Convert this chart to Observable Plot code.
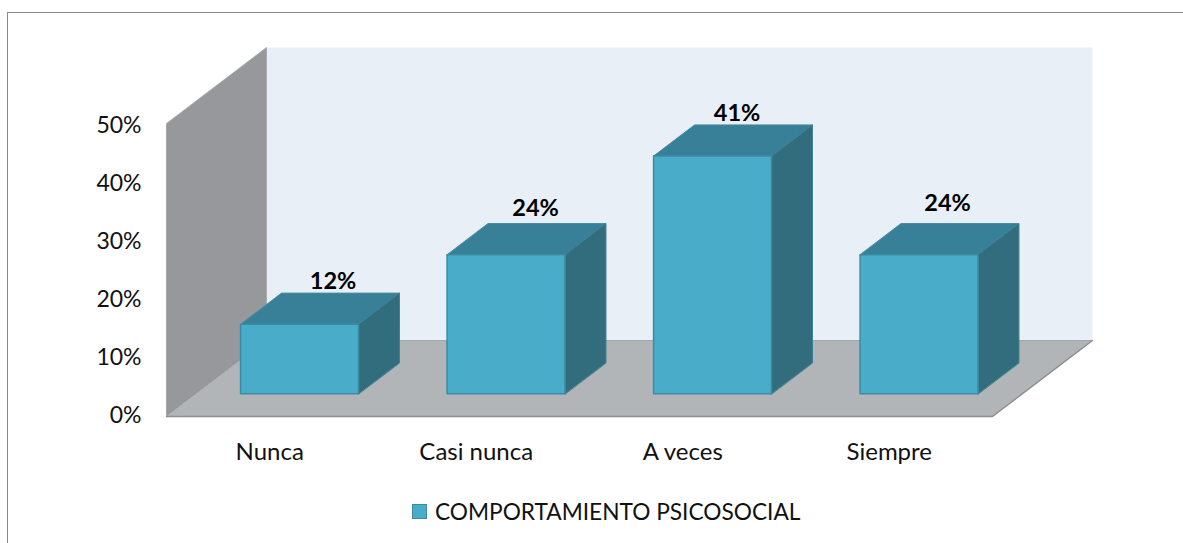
<!DOCTYPE html>
<html>
<head>
<meta charset="utf-8">
<script src="https://cdn.jsdelivr.net/npm/d3@7"></script>
<script src="https://cdn.jsdelivr.net/npm/@observablehq/plot@0.6"></script>
<style>
  html, body { margin: 0; padding: 0; background: #fff; width: 1183px; height: 543px; overflow: hidden; }
  body { position: relative; font-family: Lato, "Open Sans", sans-serif; color: #111; }
  #frame { position: absolute; left: 7px; top: 12px; right: -4px; bottom: -4px; border-left: 1.5px solid #888; border-top: 1.5px solid #888; }
  #chart { position: absolute; left: 0; top: 0; }
  #legend { position: absolute; left: 0; top: 495px; width: 1183px; height: 48px; }
  #legend .swatch { position: absolute; left: 412px; top: 9px; width: 13px; height: 13px; background: #49acc8; border: 1.5px solid #3a8ba3; }
  #legend .label { position: absolute; left: 435px; top: 1px; font-size: 22.7px; line-height: 32px; white-space: nowrap; }
</style>
</head>
<body>
<div id="frame"></div>
<div id="chart"></div>
<div id="legend"><span class="swatch"></span><span class="label" id="legendLabel"></span></div>
<script>
// Data
const categories = ["Nunca", "Casi nunca", "A veces", "Siempre"];
const values = [12, 24, 41, 24];
const seriesName = "COMPORTAMIENTO PSICOSOCIAL";
const yTicks = [0, 10, 20, 30, 40, 50];
const labelNudges = [[33, -14], [29, -17], [24, -14], [28, -22]];

// Oblique view of the 3D chart: depth d (0..1) shifts a point right and up.
const depthX = 0.484, depthY = 13.1;
const barWidth = 0.571, barFront = 0.298, barBack = 0.708;
const P = (u, v, d) => ({x: u + d * depthX, y: v + d * depthY});
const poly = (...pts) => pts.map(p => P(...p));
const yMax = yTicks[yTicks.length - 1], n = categories.length;
const wallTop = yMax + 0.5;

const face = (pts, fill, stroke, strokeWidth = 1) =>
  Plot.line(pts, {x: "x", y: "y", fill, stroke, strokeWidth, curve: "linear-closed"});

const boxes = categories.map((c, i) => ({
  c, v: values[i],
  u1: i + 0.5 - barWidth / 2,
  u2: i + 0.5 + barWidth / 2
}));

const marks = [
  // walls and floor
  face(poly([0, 0, 1], [0, wallTop, 1], [n, wallTop, 1], [n, 0, 1]), "#e8eff6", "none"),
  face(poly([0, 0, 0], [0, wallTop, 0], [0, wallTop, 1], [0, 0, 1]), "#96989c", "#a6a8ab"),
  face(poly([0, 0, 0], [0, 0, 1], [n, 0, 1], [n, 0, 0]), "#b1b5b8", "none"),
  Plot.line(poly([0, 0, 1], [n, 0, 1]), {x: "x", y: "y", stroke: "#a2a4a6", strokeWidth: 1}),
  Plot.line(poly([0, 0, 0], [n, 0, 0], [n, 0, 1]), {x: "x", y: "y", stroke: "#8b8d8f", strokeWidth: 1.5}),
  // bars
  ...boxes.flatMap(b => [
    face(poly([b.u1, b.v, barFront], [b.u1, b.v, barBack], [b.u2, b.v, barBack], [b.u2, b.v, barFront]), "#378097", "#4a8ca1"),
    face(poly([b.u2, 0, barFront], [b.u2, b.v, barFront], [b.u2, b.v, barBack], [b.u2, 0, barBack]), "#326d7d", "#3f7f92"),
    face(poly([b.u1, 0, barFront], [b.u1, b.v, barFront], [b.u2, b.v, barFront], [b.u2, 0, barFront]), "#49acc8", "#3a8ba3", 1.5)
  ]),
  // value labels
  ...boxes.map((b, i) => Plot.text([P((b.u1 + b.u2) / 2, b.v, barBack - 0.2)], {
    x: "x", y: "y",
    text: () => b.v + "%",
    dx: labelNudges[i][0] - 20.5,
    dy: labelNudges[i][1] - 13,
    fontWeight: 700, fontSize: 23.5, fill: "#000"
  })),
  // axes
  Plot.axisY({ticks: yTicks, tickFormat: d => d + "%", tickSize: 0, tickPadding: 25, label: null, fontSize: 23, fill: "#111", dy: -0.5}),
  Plot.axisX({ticks: categories.map((c, i) => i + 0.5), tickFormat: (d) => categories[d - 0.5], tickSize: 0, tickPadding: 26.5, label: null, fontSize: 24, fill: "#111"})
];

const chart = Plot.plot({
  width: 1183, height: 495,
  marginLeft: 166, marginRight: 191, marginTop: 126, marginBottom: 79,
  x: {type: "linear", domain: [0, n]},
  y: {type: "linear", domain: [0, yMax]},
  style: {background: "transparent", fontFamily: "Lato, 'Open Sans', sans-serif", overflow: "visible"},
  marks
});
document.getElementById("chart").appendChild(chart);
document.getElementById("legendLabel").textContent = seriesName;
</script>
</body>
</html>
